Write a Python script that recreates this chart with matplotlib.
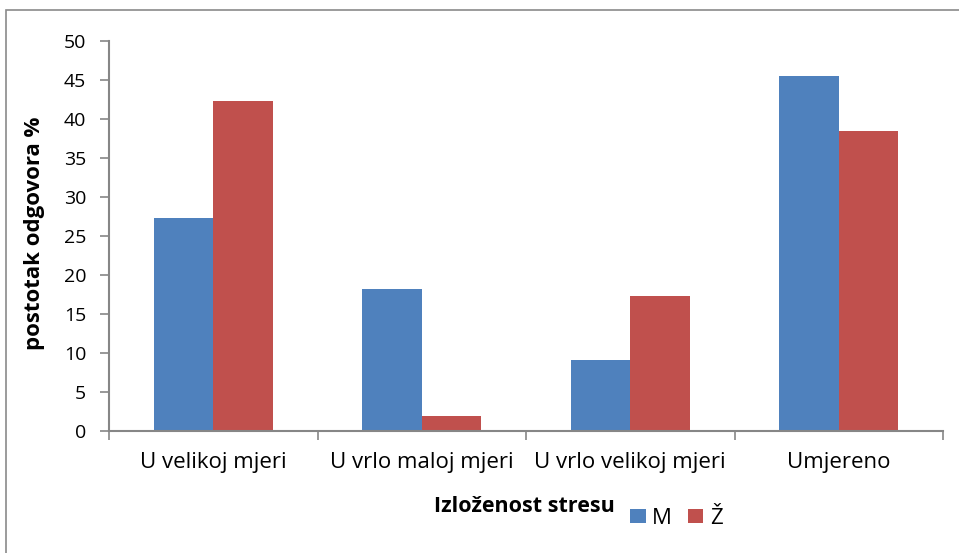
import matplotlib.pyplot as plt
import numpy as np
from matplotlib.patches import Rectangle

# data
categories = ["U velikoj mjeri", "U vrlo maloj mjeri", "U vrlo velikoj mjeri", "Umjereno"]
m_vals = [27.27, 18.18, 9.09, 45.45]
z_vals = [42.3, 1.92, 17.3, 38.46]
series_names = ["M", "Ž"]

blue = "#4F81BD"
red = "#C0504D"
grey = "#868686"

plt.rcParams['font.family'] = ['Open Sans', 'DejaVu Sans']

fig = plt.figure(figsize=(9.59, 5.53), dpi=100)
ax = fig.add_axes([109/959, 1 - 431/553, (943 - 109)/959, (431 - 41)/553])

# outer chart border (runs off the right and bottom edges)
fig.patches.append(Rectangle((6/959, -0.2), 1.2, 1.2 - 10/553,
                             transform=fig.transFigure, fill=False,
                             edgecolor="#8a8a8a", linewidth=1.2))

x = np.arange(len(categories))
w = 0.285
ax.bar(x - w/2, m_vals, w, color=blue, label=series_names[0])
ax.bar(x + w/2, z_vals, w, color=red, label=series_names[1])

ax.set_xlim(-0.5, len(categories) - 0.5)
ax.set_ylim(0, 50)
ax.set_yticks(range(0, 51, 5))

# category ticks at boundaries, labels centred
ax.set_xticks(np.arange(-0.5, len(categories), 1.0))
ax.set_xticklabels([])
ax.set_xticks(x, minor=True)
ax.set_xticklabels(categories, minor=True)
ax.tick_params(axis='x', which='minor', length=0, pad=15, labelsize=16)
ax.tick_params(axis='x', which='major', length=6.5, width=1.2, color=grey)
ax.tick_params(axis='y', length=6.5, width=1.2, color=grey, labelsize=14, pad=10)

for s in ["top", "right"]:
    ax.spines[s].set_visible(False)
for s in ["left", "bottom"]:
    ax.spines[s].set_color(grey)
    ax.spines[s].set_linewidth(1.5)

fig.text(35/959, 1 - 233/553, "postotak odgovora %", fontsize=16, fontweight="bold",
         rotation=90, ha="center", va="center")
fig.text(524/959, 1 - 506/553, "Izloženost stresu", fontsize=15.5, fontweight="bold",
         ha="center", va="center")

ax.legend(loc="center left", bbox_to_anchor=(630/959, 1 - 518/553),
          bbox_transform=fig.transFigure, frameon=False, ncol=2,
          fontsize=16, handlelength=0.7, handleheight=0.6,
          handletextpad=0.3, columnspacing=0.7, borderpad=0, borderaxespad=0)

fig.savefig("out.png", dpi=100)
